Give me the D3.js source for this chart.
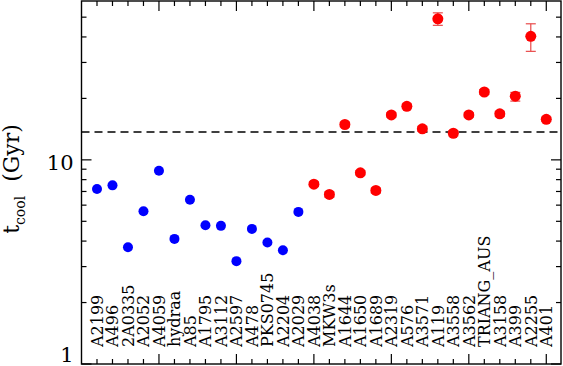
<!DOCTYPE html>
<html>
<head>
<meta charset="utf-8">
<script src="https://cdn.jsdelivr.net/npm/d3@7"></script>
<style>
  body { margin: 0; background: #fff; }
  svg { display: block; }
  text { font-family: "DejaVu Serif", serif; fill: #000; }
</style>
</head>
<body>
<div id="chart"></div>
<script>
// cluster names, in plotting order
var names = ["A2199", "A496", "2A0335", "A2052", "A4059", "hydraa", "A85", "A1795", "A3112", "A2597",
    "A478", "PKS0745", "A2204", "A2029", "A4038", "MKW3s", "A1644", "A1650", "A1689", "A2319",
    "A576", "A3571", "A119", "A3558", "A3562", "TRIANG_AUS", "A3158", "A399", "A2255", "A401"];

// cooling time (Gyr)
var tcool = [7.2, 7.5, 3.73, 5.6, 8.84, 4.1, 6.38, 4.78, 4.75, 3.19,
    4.59, 3.94, 3.61, 5.56, 7.6, 6.77, 14.9, 8.64, 7.08, 16.6,
    18.3, 14.2, 49.1, 13.5, 16.6, 21.5, 16.8, 20.5, 40.3, 15.8];

// errors (only for the red group)
var errLo = [0, 0, 0, 0, 0, 0, 0, 0, 0, 0,
    0, 0, 0, 0, 0.2, 0.2, 0.4, 0.2, 0.2, 0.4,
    0.5, 0.4, 3.5, 0.4, 0.4, 0.6, 0.5, 1.1, 6.3, 0.4];
var errHi = [0, 0, 0, 0, 0, 0, 0, 0, 0, 0,
    0, 0, 0, 0, 0.2, 0.2, 0.4, 0.2, 0.2, 0.4,
    0.5, 0.4, 3.4, 0.4, 0.4, 0.6, 0.5, 0.9, 6.1, 0.4];

// first 14 are cool-core (blue), rest red
var nBlue = 14;
var hubbleTime = 13.7;

var yMajor = [1, 10];
var yMinor = [2, 3, 4, 5, 6, 7, 8, 9, 20, 30, 40, 50];

var W = 563, H = 366;
var pL = 81.5, pR = 561, pT = 1, pB = 364;

var svg = d3.select("#chart").append("svg")
    .attr("width", W)
    .attr("height", H);

var x = d3.scaleLinear().domain([0, 30.95]).range([pL, pR]);
var y = d3.scaleLog().domain([1, 60]).range([pB, pT]);

var g = svg.append("g");

// x ticks, bottom and top
var xt = d3.range(1, 31);
xt.forEach(function (n) {
    var len = n % 5 == 0 ? 10 : 5;
    g.append("line").attr("x1", x(n)).attr("x2", x(n))
        .attr("y1", pB).attr("y2", pB - len)
        .attr("stroke", "#000").attr("stroke-width", 1.2);
    g.append("line").attr("x1", x(n)).attr("x2", x(n))
        .attr("y1", pT).attr("y2", pT + len)
        .attr("stroke", "#000").attr("stroke-width", 1.2);
});

// y ticks, left and right
yMajor.concat(yMinor).forEach(function (v) {
    var len = yMajor.indexOf(v) >= 0 ? 10 : 5;
    g.append("line").attr("x1", pL).attr("x2", pL + len)
        .attr("y1", y(v)).attr("y2", y(v))
        .attr("stroke", "#000").attr("stroke-width", 1.2);
    g.append("line").attr("x1", pR).attr("x2", pR - len)
        .attr("y1", y(v)).attr("y2", y(v))
        .attr("stroke", "#000").attr("stroke-width", 1.2);
});

g.append("rect")
    .attr("x", pL).attr("y", pT)
    .attr("width", pR - pL).attr("height", pB - pT)
    .attr("fill", "none").attr("stroke", "#000").attr("stroke-width", 1.4);

// y tick labels
g.selectAll(".ylab")
    .data(yMajor)
    .enter().append("text")
    .attr("class", "ylab")
    .attr("x", pL - 8)
    .attr("y", function (d) { return y(d); })
    .attr("dy", function (d) { return d == 1 ? "-0.1em" : "0.5em"; })
    .attr("text-anchor", "end")
    .style("font-size", "21px")
    .text(function (d) { return d; });

// y axis title
var yt = svg.append("text")
    .attr("transform", "translate(19,179) rotate(-90)")
    .attr("text-anchor", "middle")
    .attr("xml:space", "preserve")
    .style("font-size", "22px");
yt.append("tspan").text("t");
yt.append("tspan").attr("dy", 6).style("font-size", "14px").text("cool");
yt.append("tspan").attr("dy", -6).style("white-space", "pre").text("  (Gyr)");

// dashed line at the Hubble time
g.append("line")
    .attr("x1", pL).attr("x2", pR)
    .attr("y1", y(hubbleTime)).attr("y2", y(hubbleTime))
    .attr("stroke", "#000").attr("stroke-width", 1.4)
    .attr("stroke-dasharray", "8,5");

// cluster name labels
g.selectAll(".name")
    .data(names)
    .enter().append("text")
    .attr("class", "name")
    .attr("transform", function (d, i) {
        return "translate(" + x(i + 1) + ",347) rotate(-90)";
    })
    .attr("dy", "0.36em")
    .style("font-size", "16px")
    .text(function (d) { return d; });

// error bars
var pts = names.map(function (d, i) {
    return { name: d, n: i + 1, v: tcool[i], lo: errLo[i], hi: errHi[i], red: i >= nBlue };
});

var eb = g.selectAll(".err")
    .data(pts.filter(function (d) { return d.lo > 0; }))
    .enter().append("g").attr("class", "err")
    .attr("stroke", "#e84a4a").attr("stroke-width", 1.2);
eb.append("line")
    .attr("x1", function (d) { return x(d.n); })
    .attr("x2", function (d) { return x(d.n); })
    .attr("y1", function (d) { return y(d.v - d.lo); })
    .attr("y2", function (d) { return y(d.v + d.hi); });
eb.append("line")
    .attr("x1", function (d) { return x(d.n) - 5; })
    .attr("x2", function (d) { return x(d.n) + 5; })
    .attr("y1", function (d) { return y(d.v - d.lo); })
    .attr("y2", function (d) { return y(d.v - d.lo); });
eb.append("line")
    .attr("x1", function (d) { return x(d.n) - 5; })
    .attr("x2", function (d) { return x(d.n) + 5; })
    .attr("y1", function (d) { return y(d.v + d.hi); })
    .attr("y2", function (d) { return y(d.v + d.hi); });

// points
g.selectAll(".pt")
    .data(pts)
    .enter().append("circle")
    .attr("class", "pt")
    .attr("cx", function (d) { return x(d.n); })
    .attr("cy", function (d) { return y(d.v); })
    .attr("r", function (d) { return d.red ? 5.5 : 5; })
    .style("fill", function (d) { return d.red ? "#ff0000" : "#0000ff"; });
</script>
</body>
</html>
